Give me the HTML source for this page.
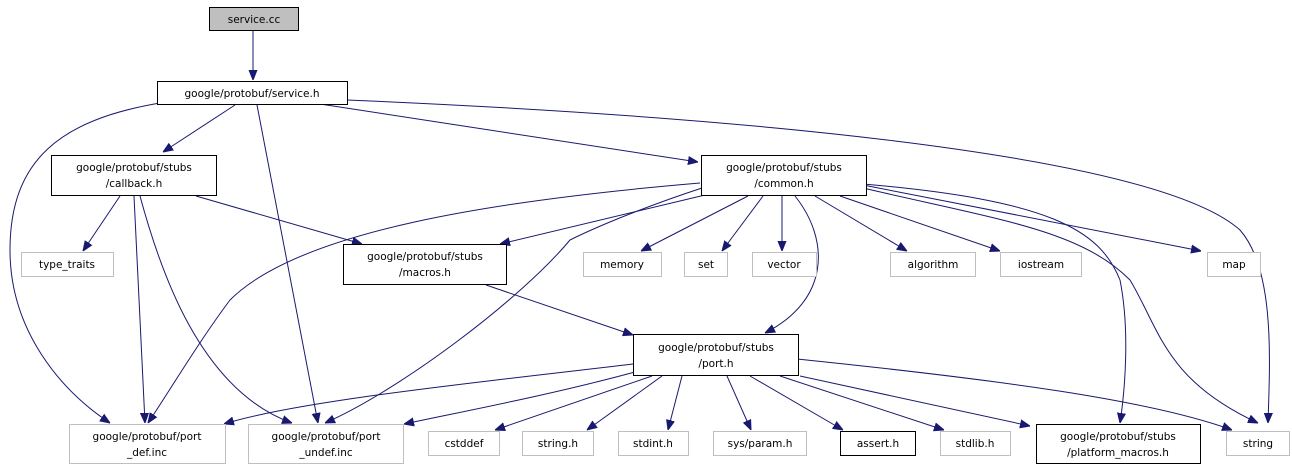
<!DOCTYPE html>
<html><head><meta charset="utf-8"><style>
html,body{margin:0;padding:0;background:#fff;}
svg{display:block;}
text{font-family:"DejaVu Sans","Liberation Sans",sans-serif;font-size:10.5px;fill:#000;text-anchor:middle;}
.b{fill:#fff;stroke:#000;stroke-width:1;}
.g{fill:#fff;stroke:#bfbfbf;stroke-width:1;}
.e{fill:none;stroke:#191970;stroke-width:1;marker-end:url(#a);}
</style></head><body>
<svg width="1292" height="469" viewBox="0 0 1292 469" xmlns="http://www.w3.org/2000/svg">
<defs><marker id="a" viewBox="0 0 10 10" refX="10" refY="5" markerWidth="10" markerHeight="10" markerUnits="userSpaceOnUse" orient="auto"><path d="M0,1 L10,5 L0,9 z" fill="#191970" stroke="#191970"/></marker></defs>

<!-- edges -->
<path class="e" d="M253,31 L253,80"/>
<path class="e" d="M235,105 L163,152"/>
<path class="e" d="M160,103 C60,120 10,160 10,250 C10,330 60,390 110,423"/>
<path class="e" d="M257,105 L318,423"/>
<path class="e" d="M320,104 L698,162"/>
<path class="e" d="M347,100 C700,115 1150,150 1240,230 C1275,270 1270,360 1268,423"/>
<path class="e" d="M120,196 L83,251"/>
<path class="e" d="M134,196 L145,423"/>
<path class="e" d="M140,196 C160,270 200,390 292,423"/>
<path class="e" d="M196,196 L362,244"/>
<path class="e" d="M700,183 C500,200 300,230 230,300 C200,340 170,390 148,423"/>
<path class="e" d="M705,187 C650,205 600,225 570,240 C520,300 400,390 325,423"/>
<path class="e" d="M705,195 L500,244"/>
<path class="e" d="M748,196 L641,251"/>
<path class="e" d="M763,196 L722,251"/>
<path class="e" d="M782,196 L782,251"/>
<path class="e" d="M795,196 C830,240 830,300 765,333"/>
<path class="e" d="M815,196 L907,251"/>
<path class="e" d="M840,196 L1000,251"/>
<path class="e" d="M863,185 L1201,251"/>
<path class="e" d="M863,184 C1050,200 1100,230 1120,280 C1130,330 1125,390 1120,423"/>
<path class="e" d="M863,188 C1000,220 1080,230 1130,280 C1160,330 1165,380 1258,423"/>
<path class="e" d="M486,285 L633,335"/>
<path class="e" d="M633,364 C500,380 300,400 224,424"/>
<path class="e" d="M635,372 C550,395 470,410 404,424"/>
<path class="e" d="M652,376 L495,430"/>
<path class="e" d="M662,376 L587,430"/>
<path class="e" d="M682,376 L668,430"/>
<path class="e" d="M727,376 L751,430"/>
<path class="e" d="M750,376 L843,430"/>
<path class="e" d="M780,376 L944,430"/>
<path class="e" d="M800,376 L1030,426"/>
<path class="e" d="M797,359 C1000,380 1150,400 1232,430"/>

<!-- nodes -->
<rect x="209.5" y="7.5" width="89" height="23" fill="#bfbfbf" stroke="#000"/>
<text x="254" y="23">service.cc</text>
<rect class="b" x="157.5" y="81.5" width="190" height="23"/>
<text x="252" y="97">google/protobuf/service.h</text>
<rect class="b" x="51.5" y="155.5" width="165" height="40"/>
<text x="134" y="171">google/protobuf/stubs</text><text x="134" y="187">/callback.h</text>
<rect class="b" x="701.5" y="155.5" width="165" height="40"/>
<text x="784" y="171">google/protobuf/stubs</text><text x="784" y="187">/common.h</text>
<rect class="g" x="21.5" y="252.5" width="92" height="24"/>
<text x="67" y="268">type_traits</text>
<rect class="b" x="343.5" y="244.5" width="163" height="40"/>
<text x="425" y="260">google/protobuf/stubs</text><text x="425" y="276">/macros.h</text>
<rect class="g" x="583.5" y="252.5" width="78" height="24"/><text x="622" y="268">memory</text>
<rect class="g" x="684.5" y="252.5" width="43" height="24"/><text x="706" y="268">set</text>
<rect class="g" x="752.5" y="252.5" width="64" height="24"/><text x="784" y="268">vector</text>
<rect class="g" x="890.5" y="252.5" width="85" height="24"/><text x="933" y="268">algorithm</text>
<rect class="g" x="1000.5" y="252.5" width="81" height="24"/><text x="1041" y="268">iostream</text>
<rect class="g" x="1207.5" y="252.5" width="53" height="24"/><text x="1234" y="268">map</text>
<rect class="b" x="633.5" y="334.5" width="165" height="41"/>
<text x="716" y="351">google/protobuf/stubs</text><text x="716" y="367">/port.h</text>
<rect class="g" x="69.5" y="424.5" width="156" height="39"/>
<text x="147" y="440">google/protobuf/port</text><text x="147" y="456">_def.inc</text>
<rect class="g" x="248.5" y="424.5" width="155" height="39"/>
<text x="326" y="440">google/protobuf/port</text><text x="326" y="456">_undef.inc</text>
<rect class="g" x="428.5" y="431.5" width="71" height="24"/><text x="464" y="447">cstddef</text>
<rect class="g" x="522.5" y="431.5" width="71" height="24"/><text x="558" y="447">string.h</text>
<rect class="g" x="618.5" y="431.5" width="70" height="24"/><text x="653" y="447">stdint.h</text>
<rect class="g" x="713.5" y="431.5" width="93" height="24"/><text x="760" y="447">sys/param.h</text>
<rect class="b" x="840.5" y="431.5" width="75" height="24"/><text x="878" y="447">assert.h</text>
<rect class="g" x="940.5" y="431.5" width="70" height="24"/><text x="975" y="447">stdlib.h</text>
<rect class="b" x="1036.5" y="424.5" width="164" height="39"/>
<text x="1118" y="440">google/protobuf/stubs</text><text x="1118" y="456">/platform_macros.h</text>
<rect class="g" x="1226.5" y="431.5" width="63" height="24"/><text x="1258" y="447">string</text>
</svg>
</body></html>
